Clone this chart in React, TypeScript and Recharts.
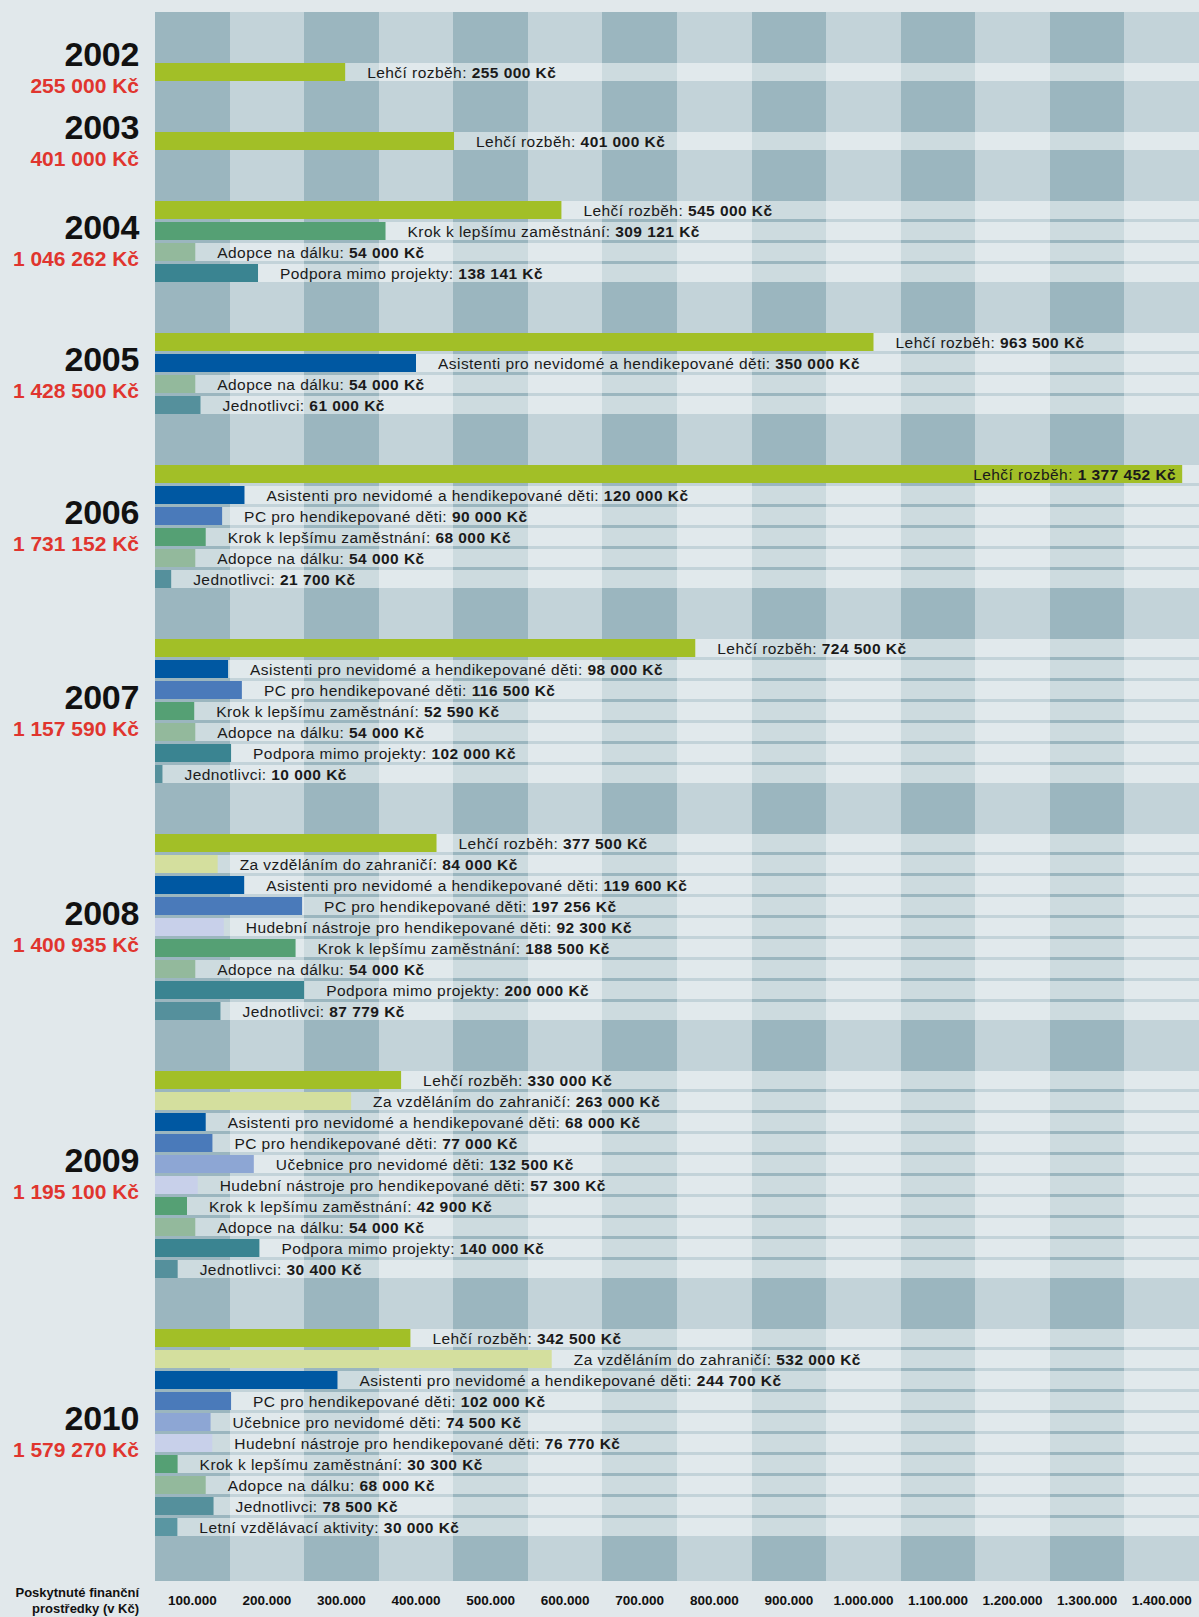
import React from 'react';
import { BarChart, Bar, XAxis, YAxis, CartesianGrid } from 'recharts';

// poskytnuté prostředky po letech
const years = ['2002', '2003', '2004', '2005', '2006', '2007', '2008', '2009', '2010'];
const yearTotals = [255000, 401000, 1046262, 1428500, 1731152, 1157590, 1400935, 1195100, 1579270];

const programsByYear = [
  ['Lehčí rozběh'],
  ['Lehčí rozběh'],
  ['Lehčí rozběh', 'Krok k lepšímu zaměstnání', 'Adopce na dálku', 'Podpora mimo projekty'],
  ['Lehčí rozběh', 'Asistenti pro nevidomé a hendikepované děti', 'Adopce na dálku', 'Jednotlivci'],
  ['Lehčí rozběh', 'Asistenti pro nevidomé a hendikepované děti', 'PC pro hendikepované děti',
    'Krok k lepšímu zaměstnání', 'Adopce na dálku', 'Jednotlivci'],
  ['Lehčí rozběh', 'Asistenti pro nevidomé a hendikepované děti', 'PC pro hendikepované děti',
    'Krok k lepšímu zaměstnání', 'Adopce na dálku', 'Podpora mimo projekty', 'Jednotlivci'],
  ['Lehčí rozběh', 'Za vzděláním do zahraničí', 'Asistenti pro nevidomé a hendikepované děti',
    'PC pro hendikepované děti', 'Hudební nástroje pro hendikepované děti', 'Krok k lepšímu zaměstnání',
    'Adopce na dálku', 'Podpora mimo projekty', 'Jednotlivci'],
  ['Lehčí rozběh', 'Za vzděláním do zahraničí', 'Asistenti pro nevidomé a hendikepované děti',
    'PC pro hendikepované děti', 'Učebnice pro nevidomé děti', 'Hudební nástroje pro hendikepované děti',
    'Krok k lepšímu zaměstnání', 'Adopce na dálku', 'Podpora mimo projekty', 'Jednotlivci'],
  ['Lehčí rozběh', 'Za vzděláním do zahraničí', 'Asistenti pro nevidomé a hendikepované děti',
    'PC pro hendikepované děti', 'Učebnice pro nevidomé děti', 'Hudební nástroje pro hendikepované děti',
    'Krok k lepšímu zaměstnání', 'Adopce na dálku', 'Jednotlivci', 'Letní vzdělávací aktivity'],
];

const amountsByYear = [
  [255000],
  [401000],
  [545000, 309121, 54000, 138141],
  [963500, 350000, 54000, 61000],
  [1377452, 120000, 90000, 68000, 54000, 21700],
  [724500, 98000, 116500, 52590, 54000, 102000, 10000],
  [377500, 84000, 119600, 197256, 92300, 188500, 54000, 200000, 87779],
  [330000, 263000, 68000, 77000, 132500, 57300, 42900, 54000, 140000, 30400],
  [342500, 532000, 244700, 102000, 74500, 76770, 30300, 68000, 78500, 30000],
];

const columnEdges = [0, 100000, 200000, 300000, 400000, 500000, 600000, 700000,
  800000, 900000, 1000000, 1100000, 1200000, 1300000, 1400000];
const columnLabels = ['100.000', '200.000', '300.000', '400.000', '500.000', '600.000', '700.000',
  '800.000', '900.000', '1.000.000', '1.100.000', '1.200.000', '1.300.000', '1.400.000'];

const programColors: Record<string, string> = {
  'Lehčí rozběh': '#a2bf27',
  'Za vzděláním do zahraničí': '#d4df9e',
  'Asistenti pro nevidomé a hendikepované děti': '#0058a2',
  'PC pro hendikepované děti': '#4a7aba',
  'Hudební nástroje pro hendikepované děti': '#c8d0ea',
  'Učebnice pro nevidomé děti': '#8da6d4',
  'Krok k lepšímu zaměstnání': '#55a074',
  'Adopce na dálku': '#93b99c',
  'Podpora mimo projekty': '#3a8491',
  'Jednotlivci': '#55909c',
  'Letní vzdělávací aktivity': '#5a96a2',
};

const FONT = '"Liberation Sans", Arial, Helvetica, sans-serif';
const ROW = 21;
const PLOT_W = 1044;
const LEFT_W = 155;
const LABEL_SIZE = 15.5;
const LABEL_SPACING = 0.45;
const LABEL_GAP = 22;

const fmtKc = (v: number) => String(v).replace(/\B(?=(\d{3})+(?!\d))/g, ' ') + ' Kč';

let measureCtx: CanvasRenderingContext2D | null = null;
const textWidth = (s: string, bold: boolean) => {
  if (!measureCtx) measureCtx = document.createElement('canvas').getContext('2d');
  if (!measureCtx) return s.length * 8;
  measureCtx.font = `${bold ? 'bold ' : ''}${LABEL_SIZE}px ${FONT}`;
  return measureCtx.measureText(s).width + s.length * LABEL_SPACING;
};

const BarWithLabel = (props: any) => {
  const { x, y, width, height } = props;
  const entry = props.payload || props;
  const head = `${entry.name}: `;
  const tail = fmtKc(entry.value);
  const tw = textWidth(head, false) + textWidth(tail, true);
  const end = x + width;
  const outside = end + LABEL_GAP + tw <= PLOT_W - 2;
  return (
    <g>
      <rect x={x} y={y} width={Math.max(width, 0)} height={height} fill={programColors[entry.name]} />
      <text
        x={outside ? end + LABEL_GAP : end - 6}
        y={y + height / 2}
        dy="0.36em"
        textAnchor={outside ? 'start' : 'end'}
        fontSize={LABEL_SIZE}
        fontFamily={FONT}
        letterSpacing={LABEL_SPACING}
        fill="#1a1a1a"
        style={{ whiteSpace: 'pre' }}
      >
        <tspan>{head}</tspan>
        <tspan fontWeight="bold">{tail}</tspan>
      </text>
    </g>
  );
};

const YearChart = ({ index }: { index: number }) => {
  const rows = programsByYear[index].map((name, i) => ({ name, value: amountsByYear[index][i] }));
  const first = index === 0;
  const last = index === years.length - 1;
  const padTop = first ? 49 : 24;
  const padBottom = last ? 44 : 24;
  const axisH = last ? 36 : 0;
  const height = rows.length * ROW + padTop + padBottom + axisH;
  const tickPos = columnEdges.slice(1).map((e, i) => (columnEdges[i] + e) / 2);

  return (
    <div style={{ display: 'flex', height }}>
      <div style={{ width: LEFT_W, position: 'relative', flexShrink: 0 }}>
        <div
          style={{
            position: 'absolute', right: 16, top: padTop + (first ? -4 : 0), height: rows.length * ROW,
            display: 'flex', flexDirection: 'column', justifyContent: 'center', alignItems: 'flex-end',
            whiteSpace: 'nowrap',
          }}
        >
          <div style={{ fontSize: 34, fontWeight: 'bold', lineHeight: '36px', color: '#111', letterSpacing: -0.3 }}>
            {years[index]}
          </div>
          <div style={{ fontSize: 21, fontWeight: 'bold', lineHeight: '28px', color: '#e0352e' }}>
            {fmtKc(yearTotals[index])}
          </div>
        </div>
        {last && (
          <div
            style={{
              position: 'absolute', right: 16, bottom: 0, textAlign: 'right', fontSize: 13,
              fontWeight: 'bold', lineHeight: '16px', color: '#111', whiteSpace: 'nowrap',
            }}
          >
            Poskytnuté finanční
            <br />
            prostředky (v Kč)
          </div>
        )}
      </div>
      <BarChart
        width={PLOT_W}
        height={height}
        data={rows}
        layout="vertical"
        barSize={18}
        margin={{ top: 0, right: 0, bottom: 0, left: 0 }}
      >
        <CartesianGrid
          horizontal={false}
          vertical
          verticalValues={columnEdges}
          verticalFill={['#9bb6bf', '#c3d3d9']}
          stroke="none"
        />
        <XAxis
          type="number"
          domain={[0, 1400000]}
          hide={!last}
          ticks={tickPos}
          interval={0}
          tickFormatter={(_v: number, i: number) => columnLabels[i]}
          axisLine={false}
          tickLine={false}
          tickSize={0}
          tickMargin={14}
          height={axisH}
          tick={{ fontSize: 13.5, fontWeight: 'bold', fill: '#111', fontFamily: FONT }}
        />
        <YAxis type="category" dataKey="name" hide padding={{ top: padTop, bottom: padBottom }} />
        <Bar
          dataKey="value"
          isAnimationActive={false}
          background={{ fill: '#ffffff', fillOpacity: 0.5 }}
          shape={BarWithLabel}
        />
      </BarChart>
    </div>
  );
};

export default function App() {
  return (
    <div
      style={{
        position: 'absolute', left: 0, top: 0, width: 1199, height: 1617, overflow: 'hidden',
        background: '#e1e8eb', fontFamily: FONT,
      }}
    >
      <div style={{ height: 12 }} />
      {years.map((y, i) => (
        <YearChart key={y} index={i} />
      ))}
    </div>
  );
}
